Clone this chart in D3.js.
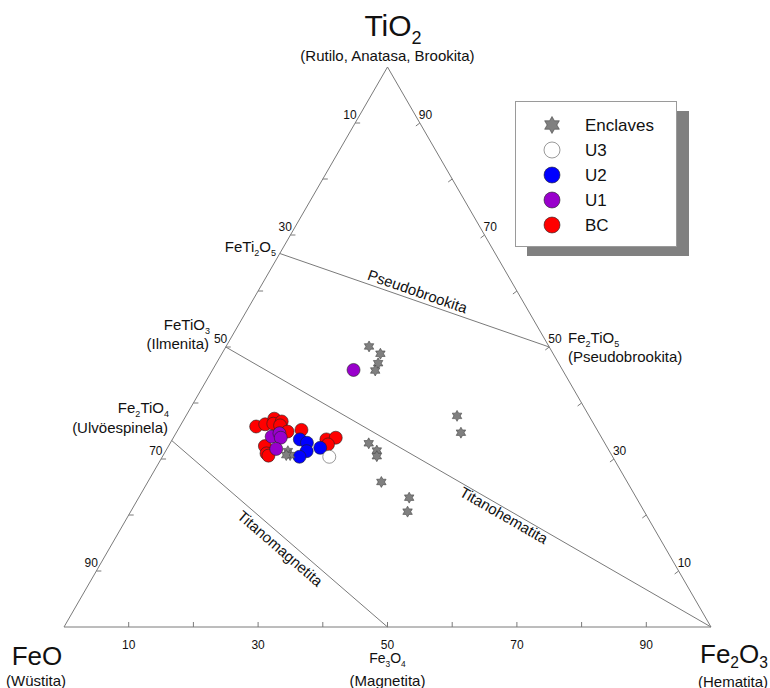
<!DOCTYPE html>
<html>
<head>
<meta charset="utf-8">
<script src="https://cdn.jsdelivr.net/npm/d3@7/dist/d3.min.js"></script>
<style>
  html, body { margin: 0; padding: 0; background: #fff; }
  svg { display: block; font-family: "Liberation Sans", Arial, Helvetica, sans-serif; }
</style>
</head>
<body>
<svg id="chart" width="770" height="688"></svg>
<script>
// Compositions as [TiO2, FeO, Fe2O3] in percent
const enclaves = [
  [50.1, 27.8, 22.1], [48.8, 26.8, 24.5], [47.1, 27.9, 25.0], [45.8, 29.0, 25.2],
  [37.7, 20.5, 41.9], [34.7, 21.3, 44.0],
  [32.8, 36.5, 30.7], [31.5, 35.9, 32.6], [30.5, 36.4, 33.1], [25.9, 38.0, 36.1],
  [23.1, 35.1, 41.8], [20.6, 36.6, 42.8],
  [31.4, 49.7, 18.9], [30.7, 49.7, 19.6], [30.7, 50.3, 19.0]
];
const u3 = [[30.4, 43.8, 25.8]];
const u2 = [
  [33.5, 46.8, 19.7], [32.9, 46.0, 21.1], [31.4, 46.8, 21.8], [30.4, 48.4, 21.2], [32.0, 44.4, 23.6]
];
const u1 = [
  [45.9, 32.3, 21.8], [34.0, 50.9, 15.1], [34.6, 49.4, 16.0], [33.8, 49.6, 16.6], [31.8, 51.3, 16.9]
];
const bc = [
  [35.8, 52.4, 11.8], [36.2, 50.8, 13.0], [37.2, 48.9, 13.9], [36.3, 49.5, 14.2],
  [36.7, 48.0, 15.3], [36.0, 48.6, 15.4], [34.9, 48.0, 17.1], [35.2, 45.7, 19.1],
  [32.3, 52.8, 14.9], [31.0, 53.2, 15.8], [30.6, 53.1, 16.3],
  [33.5, 42.7, 23.8], [33.8, 41.1, 25.1], [32.6, 42.9, 24.5]
];

// Reference compositions on the diagram, [TiO2, FeO, Fe2O3]
const feti2o5 = [66.7, 33.3, 0];
const fe2tio5 = [50, 0, 50];
const fetio3 = [50, 50, 0];
const fe2tio4 = [33.3, 66.7, 0];
const fe3o4 = [0, 50, 50];
const fe2o3 = [0, 0, 100];

const tickValues = [10, 20, 30, 40, 50, 60, 70, 80, 90];
const tickLabels = [10, 30, 50, 70, 90];

const legendItems = ["Enclaves", "U3", "U2", "U1", "BC"];

const svg = d3.select("#chart");

// Triangle frame: FeO bottom-left, Fe2O3 bottom-right, TiO2 apex
const x = d3.scaleLinear().domain([0, 100]).range([64, 711]);
const y = d3.scaleLinear().domain([0, 100]).range([627, 67]);
const proj = d => [x(d[2] + d[0] / 2), y(d[0])];

const lineColor = "#7a7a7a";

// six-pointed star symbol
const hexagram = {
  draw(ctx, size) {
    const R = Math.sqrt(size / Math.sqrt(3));
    const r = R / Math.sqrt(3);
    for (let i = 0; i < 12; i++) {
      const ang = -Math.PI / 2 + i * Math.PI / 6;
      const rr = i % 2 === 0 ? R : r;
      const px = rr * Math.cos(ang), py = rr * Math.sin(ang);
      if (i === 0) ctx.moveTo(px, py); else ctx.lineTo(px, py);
    }
    ctx.closePath();
  }
};

// Frame
const corners = [[100, 0, 0], [0, 100, 0], [0, 0, 100]].map(proj);
svg.append("path")
  .attr("d", d3.line()(corners) + "Z")
  .attr("fill", "none").attr("stroke", lineColor).attr("stroke-width", 1);

// Field boundaries
const boundaries = [[feti2o5, fe2tio5], [fetio3, fe2o3], [fe2tio4, fe3o4]];
svg.selectAll("line.bound").data(boundaries).join("line")
  .attr("class", "bound")
  .attr("x1", d => proj(d[0])[0]).attr("y1", d => proj(d[0])[1])
  .attr("x2", d => proj(d[1])[0]).attr("y2", d => proj(d[1])[1])
  .attr("stroke", lineColor).attr("stroke-width", 1);

// Ticks
const tickLen = 5;
const tg = svg.append("g").attr("stroke", lineColor).attr("stroke-width", 1);
// bottom: Fe2O3
tickValues.forEach(v => {
  const p = proj([0, 100 - v, v]);
  tg.append("line").attr("x1", p[0]).attr("y1", p[1]).attr("x2", p[0]).attr("y2", p[1] - tickLen);
});
// left: FeO
tickValues.forEach(v => {
  const p = proj([100 - v, v, 0]);
  tg.append("line").attr("x1", p[0]).attr("y1", p[1]).attr("x2", p[0] + tickLen).attr("y2", p[1]);
});
// right: TiO2
tickValues.forEach(v => {
  const p = proj([v, 0, 100 - v]);
  tg.append("line").attr("x1", p[0]).attr("y1", p[1]).attr("x2", p[0] - tickLen * 0.8).attr("y2", p[1] + tickLen * 0.6);
});

// Tick labels
const tl = svg.append("g").attr("font-size", 12).attr("fill", "#111");
tickLabels.forEach(v => {
  const pb = proj([0, 100 - v, v]);
  tl.append("text").attr("x", pb[0]).attr("y", pb[1] + 22).attr("text-anchor", "middle").text(v);
  const pl = proj([100 - v, v, 0]);
  tl.append("text").attr("x", pl[0] + 1.5).attr("y", pl[1] - 4).attr("text-anchor", "end").text(v);
  const pr = proj([v, 0, 100 - v]);
  tl.append("text").attr("x", pr[0] - 1).attr("y", pr[1] - 4).attr("text-anchor", "start").text(v);
});

// Chemical formula with subscripts; parts in brackets are subscripts
function formula(g, parts, xPos, yPos, size, anchor, subScale = 0.6, lower = 0.28) {
  const t = g.append("text").attr("x", xPos).attr("y", yPos)
    .attr("font-size", size).attr("text-anchor", anchor).attr("fill", "#111");
  const shift = size * lower;
  let lowered = false;
  parts.forEach(p => {
    if (typeof p === "string") {
      const s = t.append("tspan").text(p);
      if (lowered) { s.attr("dy", -shift); lowered = false; }
    } else {
      t.append("tspan").attr("font-size", size * subScale).attr("dy", shift).text(p[0]);
      lowered = true;
    }
  });
  return t;
}

function plain(g, text, xPos, yPos, size, anchor) {
  return g.append("text").attr("x", xPos).attr("y", yPos).attr("text-anchor", anchor)
    .attr("font-size", size).attr("fill", "#111").text(text);
}

const lab = svg.append("g");
// Vertex labels
formula(lab, ["TiO", ["2"]], 393, 36, 30, "middle");
plain(lab, "(Rutilo, Anatasa, Brookita)", 387.5, 61, 15, "middle");

formula(lab, ["FeO"], 37, 665, 26, "middle");
plain(lab, "(Wüstita)", 36, 686, 15, "middle");

formula(lab, ["Fe", ["2"], "O", ["3"]], 700, 663, 26, "start", 0.6, 0.2);
plain(lab, "(Hematita)", 733, 686.5, 15, "middle");

formula(lab, ["Fe", ["3"], "O", ["4"]], 387.5, 663, 14, "middle");
plain(lab, "(Magnetita)", 387.5, 686, 15, "middle");

// Compound labels along the edges
formula(lab, ["FeTi", ["2"], "O", ["5"]], 276, 252, 15, "end");
formula(lab, ["FeTiO", ["3"]], 210, 330, 15, "end");
plain(lab, "(Ilmenita)", 209, 349, 15, "end");
formula(lab, ["Fe", ["2"], "TiO", ["4"]], 169, 413, 15, "end");
plain(lab, "(Ulvöespinela)", 168, 433, 15, "end");
formula(lab, ["Fe", ["2"], "TiO", ["5"]], 568, 343, 15, "start");
plain(lab, "(Pseudobrookita)", 568, 362, 15, "start");

// Field names placed along their boundary lines
function lineLabel(a, b, t, offset, text) {
  const p0 = proj(a), p1 = proj(b);
  const px = p0[0] + (p1[0] - p0[0]) * t, py = p0[1] + (p1[1] - p0[1]) * t;
  const ang = Math.atan2(p1[1] - p0[1], p1[0] - p0[0]) * 180 / Math.PI;
  lab.append("text")
    .attr("transform", `translate(${px},${py}) rotate(${ang})`)
    .attr("y", offset).attr("text-anchor", "middle")
    .attr("font-size", 15).attr("fill", "#111").text(text);
}
lineLabel(feti2o5, fe2tio5, 0.5, -4, "Pseudobrookita");
lineLabel(fetio3, fe2o3, 0.58, 12, "Titanohematita");
lineLabel(fe2tio4, fe3o4, 0.535, 16, "Titanomagnetita");

// Data
const pts = svg.append("g");
const circleSeries = [
  { data: bc, fill: "#ff0000" },
  { data: u1, fill: "#9900cc" },
  { data: u2, fill: "#0000ff" },
  { data: u3, fill: "#ffffff" }
];
circleSeries.forEach(s => {
  pts.append("g").selectAll("circle").data(s.data).join("circle")
    .attr("cx", d => proj(d)[0]).attr("cy", d => proj(d)[1]).attr("r", 6.5)
    .attr("fill", s.fill).attr("stroke", s.fill === "#ffffff" ? "#555" : "#222")
    .attr("stroke-width", 0.6);
});
const starSym = d3.symbol().type(hexagram).size(52);
pts.append("g").selectAll("path").data(enclaves).join("path")
  .attr("transform", d => `translate(${proj(d)[0]},${proj(d)[1]})`)
  .attr("d", starSym())
  .attr("fill", "#808080").attr("stroke", "#444").attr("stroke-width", 0.6);

// Legend
const lg = svg.append("g");
lg.append("rect").attr("x", 527).attr("y", 111).attr("width", 162).attr("height", 145).attr("fill", "#808080");
lg.append("rect").attr("x", 515.5).attr("y", 101.5).attr("width", 161).attr("height", 145)
  .attr("fill", "#fff").attr("stroke", "#9a9a9a").attr("stroke-width", 1);
const legendFill = ["#808080", "#ffffff", "#0000ff", "#9900cc", "#ff0000"];
legendItems.forEach((name, i) => {
  const yy = 125 + i * 25;
  if (i === 0) {
    lg.append("path").attr("transform", `translate(552,${yy})`)
      .attr("d", d3.symbol().type(hexagram).size(125)())
      .attr("fill", "#808080").attr("stroke", "#444").attr("stroke-width", 0.6);
  } else {
    lg.append("circle").attr("cx", 552).attr("cy", yy).attr("r", 8)
      .attr("fill", legendFill[i]).attr("stroke", i === 1 ? "#555" : "#222").attr("stroke-width", 0.6);
  }
  lg.append("text").attr("x", 585).attr("y", yy + 6).attr("font-size", 17).attr("fill", "#111").text(name);
});
</script>
</body>
</html>
